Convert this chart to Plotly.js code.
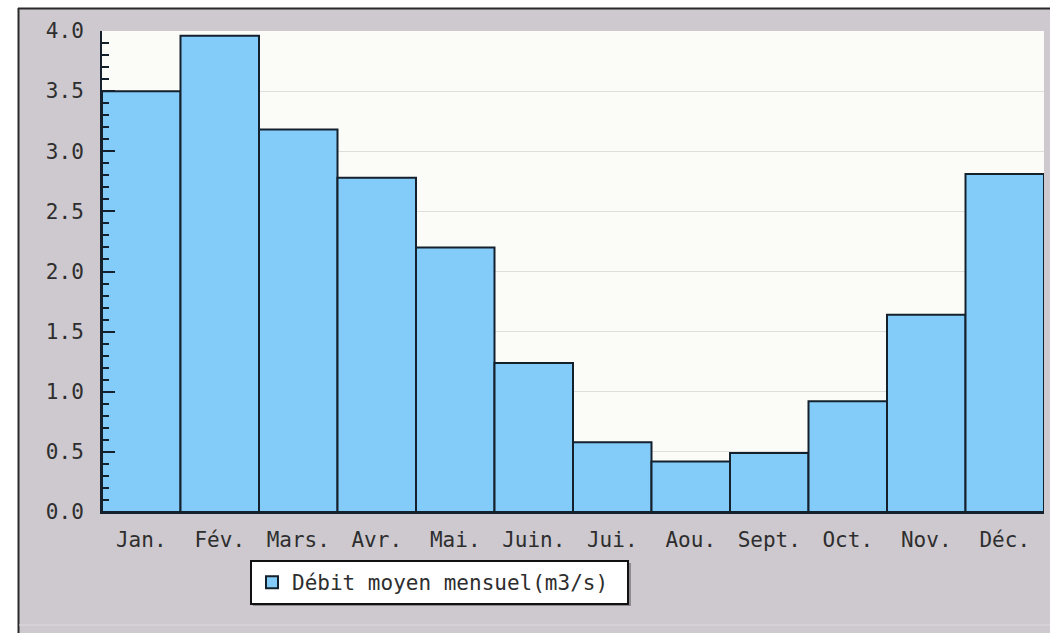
<!DOCTYPE html>
<html>
<head>
<meta charset="utf-8">
<script src="https://cdn.plot.ly/plotly-3.0.1.min.js"></script>
<style>html,body{margin:0;padding:0;background:#fff;}#chart{width:1050px;height:633px;}</style>
</head>
<body>
<div id="chart"></div>
<script>
const months = ["Jan.", "Fév.", "Mars.", "Avr.", "Mai.", "Juin.", "Jui.", "Aou.", "Sept.", "Oct.", "Nov.", "Déc."];
const debit = [3.50, 3.96, 3.18, 2.78, 2.20, 1.24, 0.58, 0.42, 0.49, 0.92, 1.64, 2.81];
const seriesName = "Débit moyen mensuel(m3/s)";
const yTickVals = [0, 0.5, 1.0, 1.5, 2.0, 2.5, 3.0, 3.5, 4.0];
const yTickText = ["0.0", "0.5", "1.0", "1.5", "2.0", "2.5", "3.0", "3.5", "4.0"];

const W = 1050, H = 633;
const M = {l: 102, r: 6, t: 31, b: 121};
const pw = W - M.l - M.r, ph = H - M.t - M.b;
function px(x) { return (x - M.l) / pw; }
function py(y) { return (H - M.b - y) / ph; }

const font = {family: "DejaVu Sans Mono, monospace", size: 21, color: "#2e2e2e"};

const trace = {
  type: "bar",
  x: months,
  y: debit,
  name: seriesName,
  showlegend: true,
  width: 1,
  marker: {color: "#83cbf9", line: {color: "#14202c", width: 2}},
  hoverinfo: "x+y"
};

const shapes = [
  {type: "rect", xref: "paper", yref: "paper", x0: px(0), x1: px(W), y0: py(0), y1: py(8), fillcolor: "#ffffff", line: {width: 0}},
  {type: "rect", xref: "paper", yref: "paper", x0: px(0), x1: px(18), y0: py(0), y1: py(H), fillcolor: "#ffffff", line: {width: 0}},
  {type: "line", xref: "paper", yref: "paper", x0: px(18), x1: px(W), y0: py(8.5), y1: py(8.5), line: {color: "#2a2a2a", width: 2}},
  {type: "line", xref: "paper", yref: "paper", x0: px(18.5), x1: px(18.5), y0: py(8), y1: py(H), line: {color: "#2a2a2a", width: 2}},
  {type: "line", xref: "paper", yref: "paper", x0: px(19), x1: px(W), y0: py(625), y1: py(625), line: {color: "#dcdcdc", width: 1}},
  {type: "rect", xref: "paper", yref: "paper", x0: px(253), x1: px(631), y0: py(563), y1: py(606), fillcolor: "#8d8b90", line: {width: 0}}
];

const layout = {
  width: W, height: H,
  margin: M,
  paper_bgcolor: "#cdc9ce",
  plot_bgcolor: "#fbfcf8",
  font: font,
  bargap: 0,
  showlegend: true,
  legend: {
    orientation: "h",
    entrywidth: 330,
    x: px(250), y: py(560), xanchor: "left", yanchor: "top",
    bgcolor: "#ffffff", bordercolor: "#111111", borderwidth: 2,
    font: font
  },
  xaxis: {
    type: "category",
    showline: true, linecolor: "#14202c", linewidth: 2,
    ticks: "", showgrid: false, zeroline: false,
    tickfont: font,
    ticklabelstandoff: 8,
    fixedrange: true
  },
  yaxis: {
    range: [0, 4.0],
    tickvals: yTickVals, ticktext: yTickText,
    showline: true, linecolor: "#14202c", linewidth: 2,
    ticks: "inside", ticklen: 13, tickwidth: 2, tickcolor: "#14202c",
    minor: {dtick: 0.1, ticks: "inside", ticklen: 7, tickwidth: 2, tickcolor: "#14202c", showgrid: false},
    showgrid: true, gridcolor: "#dedede", gridwidth: 1,
    zeroline: false,
    tickfont: font,
    ticklabelstandoff: 12,
    fixedrange: true
  },
  shapes: shapes
};

Plotly.newPlot("chart", [trace], layout, {displayModeBar: false, staticPlot: true});
</script>
</body>
</html>
